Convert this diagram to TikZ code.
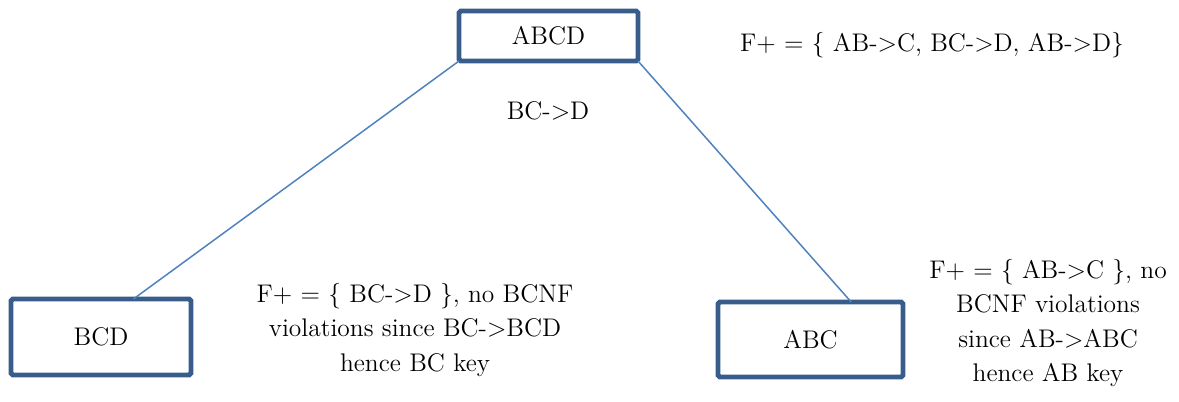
\documentclass[tikz,border=0pt]{standalone}
\usetikzlibrary{calc}
\definecolor{boxblue}{RGB}{56,93,138}
\definecolor{lineblue}{RGB}{79,129,189}
\tikzset{
	relbox/.style={draw=boxblue, line width=2.8pt, rounded corners=1pt, outer sep=0pt, inner sep=0pt},
	splitline/.style={draw=lineblue, line width=0.85pt},
	note/.style={align=center, inner sep=0pt, font=\fontsize{14.5}{19.6}\selectfont}
}

\begin{document}
\begin{tikzpicture}[x=0.02cm, y=-0.02cm]
			%%%%% START %%%%%
			\useasboundingbox (0, 0) rectangle (1179, 402);
			
			\node[relbox, minimum width=3.58cm, minimum height=1.0cm] (abcd) at (548.5, 36) {};
			\node[note] at (abcd.center) {ABCD};
			
			\node[relbox, minimum width=3.6cm, minimum height=1.52cm] (bcd) at (101, 337) {};
			\node[note] at (bcd.center) {BCD};
			
			\node[relbox, minimum width=3.7cm, minimum height=1.5cm] (abc) at (810.5, 339.5) {};
			\node[note] at (abc.center) {ABC};
			
			\node[note] (fd) at (548, 111) {BC->D};
			\node[note] (fplus) at (932, 45) {F+ = \{ AB->C, BC->D, AB->D\}};
			
			\node[note] (bcdnote) at (415, 330) {F+ = \{ BC->D \}, no BCNF\\violations since BC->BCD\\hence BC key};
			\node[note] (abcnote) at (1048, 323) {F+ = \{ AB->C \}, no\\BCNF violations\\since AB->ABC\\hence AB key};
			
			\coordinate (bcdtop) at ($(bcd.north west)!0.68!(bcd.north east)$);
			\coordinate (abctop) at ($(abc.north west)!0.72!(abc.north east)$);
			\draw[splitline] (abcd.south west) -- (bcdtop);
			\draw[splitline] (abcd.south east) -- (abctop);
			%%%%% END %%%%%
\end{tikzpicture}
\end{document}
